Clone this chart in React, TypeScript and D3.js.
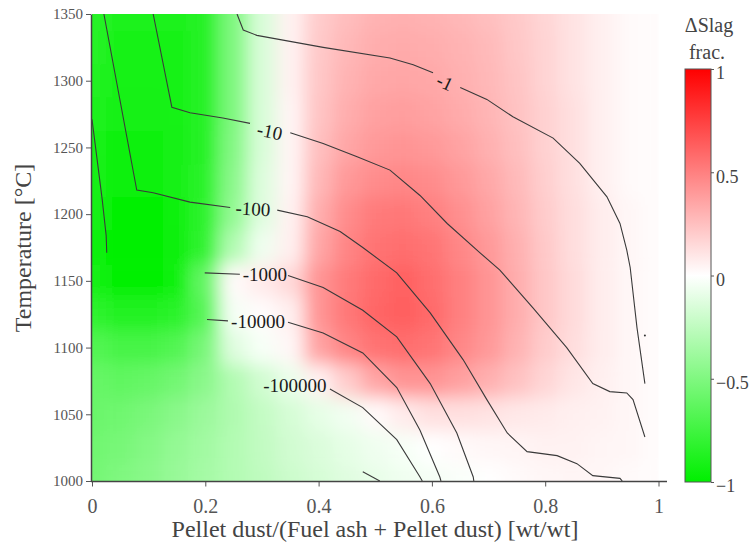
import { useEffect, useRef } from "react";
import * as d3 from "d3";

// grid of the heat map: pellet dust fraction (columns) x temperature (rows)
const xGrid = [0, 0.05, 0.1, 0.15, 0.2, 0.25, 0.3, 0.35, 0.4, 0.45, 0.5, 0.55, 0.6, 0.65, 0.7, 0.75, 0.8, 0.85, 0.9, 0.95, 1];
const tGrid = [1350, 1325, 1300, 1275, 1250, 1225, 1200, 1175, 1150, 1125, 1100, 1075, 1050, 1025, 1000];

// delta slag fraction, one row per temperature in tGrid
const slagRows = [
  [-0.85, -0.88, -0.88, -0.88, -0.85, -0.5, -0.15, 0.05, 0.2, 0.26, 0.3, 0.31, 0.3, 0.28, 0.25, 0.21, 0.16, 0.11, 0.06, 0.02, 0.01],
  [-0.85, -0.9, -0.9, -0.9, -0.85, -0.5, -0.15, 0.05, 0.21, 0.28, 0.32, 0.33, 0.32, 0.3, 0.27, 0.22, 0.17, 0.11, 0.06, 0.02, 0.01],
  [-0.87, -0.9, -0.9, -0.9, -0.85, -0.5, -0.15, 0.05, 0.22, 0.3, 0.34, 0.35, 0.34, 0.31, 0.28, 0.23, 0.17, 0.11, 0.06, 0.02, 0.01],
  [-0.88, -0.92, -0.92, -0.9, -0.85, -0.5, -0.15, 0.04, 0.23, 0.32, 0.37, 0.38, 0.36, 0.33, 0.29, 0.24, 0.18, 0.12, 0.06, 0.02, 0.01],
  [-0.9, -0.94, -0.94, -0.92, -0.85, -0.48, -0.15, 0.04, 0.25, 0.35, 0.4, 0.42, 0.4, 0.36, 0.31, 0.25, 0.18, 0.12, 0.06, 0.02, 0.01],
  [-0.92, -0.96, -0.96, -0.93, -0.83, -0.45, -0.13, 0.04, 0.28, 0.4, 0.45, 0.47, 0.45, 0.4, 0.34, 0.27, 0.19, 0.12, 0.06, 0.02, 0.01],
  [-0.93, -0.98, -0.98, -0.95, -0.82, -0.42, -0.12, 0.05, 0.32, 0.45, 0.52, 0.53, 0.5, 0.44, 0.37, 0.29, 0.2, 0.13, 0.07, 0.03, 0.01],
  [-0.95, -1, -1, -0.97, -0.8, -0.3, -0.06, 0.06, 0.35, 0.48, 0.55, 0.57, 0.54, 0.47, 0.4, 0.31, 0.21, 0.13, 0.07, 0.03, 0.01],
  [-0.93, -0.98, -0.98, -0.95, -0.6, 0.02, 0.08, 0.15, 0.42, 0.52, 0.58, 0.62, 0.57, 0.5, 0.42, 0.32, 0.22, 0.14, 0.07, 0.03, 0.01],
  [-0.82, -0.86, -0.86, -0.83, -0.65, -0.04, 0.01, 0.06, 0.42, 0.53, 0.6, 0.63, 0.58, 0.5, 0.42, 0.32, 0.22, 0.14, 0.07, 0.03, 0.01],
  [-0.68, -0.72, -0.72, -0.68, -0.52, -0.12, -0.03, 0.03, 0.36, 0.48, 0.55, 0.57, 0.54, 0.47, 0.4, 0.3, 0.2, 0.13, 0.07, 0.03, 0.01],
  [-0.6, -0.62, -0.6, -0.55, -0.45, -0.3, -0.18, -0.08, 0.05, 0.2, 0.35, 0.42, 0.42, 0.37, 0.31, 0.24, 0.16, 0.1, 0.06, 0.03, 0.01],
  [-0.58, -0.56, -0.52, -0.46, -0.39, -0.31, -0.23, -0.16, -0.1, -0.05, 0.02, 0.08, 0.12, 0.12, 0.11, 0.09, 0.08, 0.06, 0.05, 0.03, 0.01],
  [-0.56, -0.53, -0.48, -0.42, -0.36, -0.3, -0.24, -0.18, -0.14, -0.1, -0.06, -0.03, 0, 0.02, 0.03, 0.04, 0.05, 0.05, 0.04, 0.03, 0.01],
  [-0.55, -0.5, -0.46, -0.4, -0.35, -0.3, -0.25, -0.2, -0.16, -0.12, -0.09, -0.06, -0.04, -0.02, 0, 0.02, 0.03, 0.04, 0.03, 0.02, 0.01],
];

// contour lines [x, T]; null = gap left for the label
const contourA = [[0, 1271], [0.009, 1241], [0.018, 1211], [0.025, 1184], [0.026, 1171]];
const contourM1 = [
  [0.256, 1350], [0.267, 1338], [0.291, 1334], [0.408, 1325], [0.526, 1317], [0.567, 1312], [0.602, 1306], null,
  [0.65, 1295], [0.697, 1286], [0.743, 1273], [0.814, 1257], [0.861, 1238], [0.909, 1213], [0.932, 1193],
  [0.944, 1173], [0.95, 1160], [0.962, 1115], [0.976, 1073],
];
const contourM10 = [
  [0.108, 1350], [0.141, 1280], [0.173, 1276], [0.231, 1272], [0.279, 1268], null,
  [0.35, 1261], [0.408, 1253], [0.468, 1243], [0.526, 1233], [0.579, 1214], [0.627, 1193], [0.685, 1171],
  [0.72, 1158], [0.778, 1130], [0.838, 1100], [0.884, 1073], [0.914, 1067], [0.944, 1066], [0.955, 1061], [0.976, 1033],
];
const contourM100 = [
  [0.021, 1350], [0.079, 1218], [0.108, 1216], [0.173, 1209], [0.244, 1205], null,
  [0.327, 1203], [0.38, 1198], [0.438, 1187], [0.478, 1175], [0.538, 1156], [0.597, 1126], [0.655, 1091],
  [0.697, 1061], [0.733, 1036], [0.768, 1022], [0.821, 1019], [0.856, 1013], [0.884, 1004], [0.932, 1002], [0.936, 1000],
];
const contourM1000 = [
  [0.199, 1156], [0.261, 1155], null,
  [0.346, 1154], [0.408, 1145], [0.478, 1128], [0.538, 1108], [0.597, 1073], [0.644, 1036], [0.673, 1003], [0.674, 1000],
];
const contourM10000 = [
  [0.203, 1121], [0.24, 1120], null,
  [0.346, 1119], [0.408, 1111], [0.478, 1096], [0.538, 1070], [0.579, 1038], [0.614, 1003], [0.616, 1000],
];
const contourM100000 = [[0.42, 1069], [0.478, 1055], [0.538, 1031], [0.579, 1003], [0.583, 1000]];
const contourSmall = [[0.478, 1007], [0.508, 1000]];
const contourDot = [[0.976, 1109]];

const contourLabels = [
  { text: "-1", x: 0.623, t: 1299, angle: 25 },
  { text: "-10", x: 0.314, t: 1262, angle: 12 },
  { text: "-100", x: 0.284, t: 1204, angle: 3 },
  { text: "-1000", x: 0.305, t: 1155, angle: 0 },
  { text: "-10000", x: 0.293, t: 1120, angle: 0 },
  { text: "-100000", x: 0.358, t: 1072, angle: 0 },
];

const xTicks = [0, 0.2, 0.4, 0.6, 0.8, 1];
const xTickLabels = ["0", "0.2", "0.4", "0.6", "0.8", "1"];
const tTicks = [1000, 1050, 1100, 1150, 1200, 1250, 1300, 1350];
const cbTicks = [1, 0.5, 0, -0.5, -1];
const cbTickLabels = ["1", "0.5", "0", "\u22120.5", "\u22121"];

const font = "'Liberation Serif', 'Times New Roman', serif";

export default function App() {
  const ref = useRef<SVGSVGElement | null>(null);

  useEffect(() => {
    const svg = d3.select(ref.current);
    svg.selectAll("*").remove();

    const x = d3.scaleLinear().domain([0, 1]).range([92, 658.5]);
    const y = d3.scaleLinear().domain([1000, 1350]).range([481, 14]);
    const color = d3
      .scaleLinear<string>()
      .domain([-1, 0, 1])
      .range(["#00f000", "#ffffff", "#ff0000"])
      .clamp(true);

    const defs = svg.append("defs");
    defs
      .append("clipPath")
      .attr("id", "plot-clip")
      .append("rect")
      .attr("x", x(0))
      .attr("y", y(1350))
      .attr("width", x(1) - x(0))
      .attr("height", y(1000) - y(1350));
    defs
      .append("filter")
      .attr("id", "smooth")
      .attr("filterUnits", "userSpaceOnUse")
      .attr("x", 0)
      .attr("y", 0)
      .attr("width", 753)
      .attr("height", 551)
      .append("feGaussianBlur")
      .attr("stdDeviation", 9);

    // heat map cells, blurred so they blend like the interpolated original
    const dx = 0.025;
    const dt = 12.5;
    const cells = tGrid.flatMap((t, i) =>
      xGrid.map((xv, j) => ({
        x0: j === 0 ? xv - 0.1 : xv - dx,
        x1: j === xGrid.length - 1 ? xv + 0.1 : xv + dx,
        t0: i === tGrid.length - 1 ? t - 50 : t - dt,
        t1: i === 0 ? t + 50 : t + dt,
        v: slagRows[i][j],
      }))
    );

    svg
      .append("g")
      .attr("clip-path", "url(#plot-clip)")
      .append("g")
      .attr("filter", "url(#smooth)")
      .selectAll("rect")
      .data(cells)
      .enter()
      .append("rect")
      .attr("x", (d) => x(d.x0))
      .attr("y", (d) => y(d.t1))
      .attr("width", (d) => x(d.x1) - x(d.x0) + 0.5)
      .attr("height", (d) => y(d.t0) - y(d.t1) + 0.5)
      .attr("fill", (d) => color(d.v));

    // contour lines
    const line = d3
      .line<any>()
      .defined((d) => d !== null)
      .x((d) => x(d[0]))
      .y((d) => y(d[1]));

    const contours = svg.append("g").attr("clip-path", "url(#plot-clip)");
    contours
      .selectAll("path")
      .data([contourA, contourM1, contourM10, contourM100, contourM1000, contourM10000, contourM100000, contourSmall])
      .enter()
      .append("path")
      .attr("d", (d) => line(d))
      .attr("fill", "none")
      .attr("stroke", "#3a3a3a")
      .attr("stroke-width", 1.1);

    contours
      .selectAll("circle")
      .data(contourDot)
      .enter()
      .append("circle")
      .attr("cx", (d) => x(d[0]))
      .attr("cy", (d) => y(d[1]))
      .attr("r", 1)
      .attr("fill", "#333");

    svg
      .append("g")
      .selectAll("text")
      .data(contourLabels)
      .enter()
      .append("text")
      .attr("transform", (d) => `translate(${x(d.x)},${y(d.t)}) rotate(${d.angle})`)
      .attr("text-anchor", "middle")
      .attr("dy", "0.35em")
      .attr("font-family", font)
      .attr("font-size", 19)
      .attr("fill", "#1a1a1a")
      .text((d) => d.text);

    // y axis
    const yAxis = svg
      .append("g")
      .attr("transform", "translate(91,0)")
      .call(
        d3
          .axisLeft(y)
          .tickValues(tTicks)
          .tickFormat((d) => String(d))
          .tickSize(5)
          .tickSizeOuter(0)
          .tickPadding(3)
      );
    yAxis.select(".domain").attr("stroke", "#444").attr("stroke-width", 1.5);
    yAxis.selectAll(".tick line").attr("stroke", "#555");
    yAxis
      .selectAll(".tick text")
      .attr("font-family", font)
      .attr("font-size", 15)
      .attr("fill", "#555");

    // x axis
    const xAxis = svg
      .append("g")
      .attr("transform", "translate(0,481.5)")
      .call(
        d3
          .axisBottom(x)
          .tickValues(xTicks)
          .tickFormat((_, i) => xTickLabels[i])
          .tickSize(5)
          .tickSizeOuter(0)
          .tickPadding(12)
      );
    xAxis.select(".domain").remove();
    xAxis
      .append("line")
      .attr("x1", 91)
      .attr("x2", 667)
      .attr("stroke", "#444")
      .attr("stroke-width", 1.5);
    xAxis.selectAll(".tick line").attr("stroke", "#555");
    xAxis
      .selectAll(".tick text")
      .attr("font-family", font)
      .attr("font-size", 20)
      .attr("fill", "#555");

    // axis titles
    svg
      .append("text")
      .attr("x", 375)
      .attr("y", 537)
      .attr("text-anchor", "middle")
      .attr("font-family", font)
      .attr("font-size", 24)
      .attr("fill", "#444")
      .text("Pellet dust/(Fuel ash + Pellet dust) [wt/wt]");
    svg
      .append("text")
      .attr("transform", "translate(31,248) rotate(-90)")
      .attr("text-anchor", "middle")
      .attr("font-family", font)
      .attr("font-size", 24)
      .attr("fill", "#444")
      .text("Temperature [\u00b0C]");

    // colour bar
    const cbY = d3.scaleLinear().domain([-1, 1]).range([482, 69]);
    const grad = defs
      .append("linearGradient")
      .attr("id", "cb-grad")
      .attr("x1", 0)
      .attr("y1", 0)
      .attr("x2", 0)
      .attr("y2", 1);
    grad
      .selectAll("stop")
      .data([1, 0.5, 0, -0.5, -1])
      .enter()
      .append("stop")
      .attr("offset", (d) => (1 - d) / 2)
      .attr("stop-color", (d) => color(d));

    svg
      .append("rect")
      .attr("x", 685)
      .attr("y", cbY(1))
      .attr("width", 26)
      .attr("height", cbY(-1) - cbY(1))
      .attr("fill", "url(#cb-grad)")
      .attr("stroke", "#555")
      .attr("stroke-width", 1);

    const cbAxis = svg
      .append("g")
      .attr("transform", "translate(711,0)")
      .call(
        d3
          .axisRight(cbY)
          .tickValues(cbTicks)
          .tickFormat((_, i) => cbTickLabels[i])
          .tickSize(3)
          .tickSizeOuter(0)
          .tickPadding(2)
      );
    cbAxis.select(".domain").remove();
    cbAxis.selectAll(".tick line").attr("stroke", "#555");
    cbAxis
      .selectAll(".tick text")
      .attr("font-family", font)
      .attr("font-size", 18)
      .attr("dy", "0.55em")
      .attr("fill", "#444");

    svg
      .append("text")
      .attr("x", 709)
      .attr("y", 32)
      .attr("text-anchor", "middle")
      .attr("font-family", font)
      .attr("font-size", 20)
      .attr("fill", "#444")
      .text("\u0394Slag");
    svg
      .append("text")
      .attr("x", 707)
      .attr("y", 59)
      .attr("text-anchor", "middle")
      .attr("font-family", font)
      .attr("font-size", 20)
      .attr("fill", "#444")
      .text("frac.");
  }, []);

  return (
    <svg
      ref={ref}
      width={753}
      height={551}
      style={{ position: "absolute", left: 0, top: 0, background: "#fff" }}
    />
  );
}
